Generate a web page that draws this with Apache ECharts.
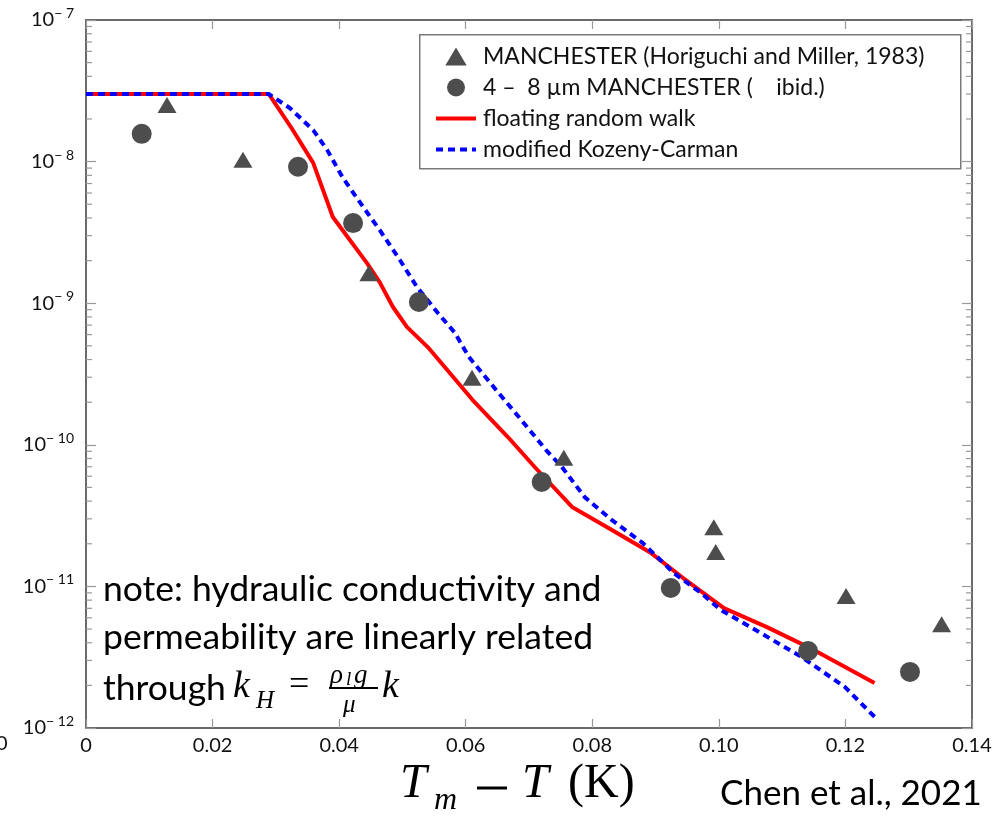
<!DOCTYPE html>
<html><head><meta charset="utf-8">
<script src="https://cdn.jsdelivr.net/npm/echarts@6/dist/echarts.min.js"></script>
<style>html,body{margin:0;padding:0;background:#fff;}#c{width:997px;height:817px;}</style>
</head><body><div id="c"></div>
<script>
// ---- data ----
var xTickLabels = ['0','0.02','0.04','0.06','0.08','0.10','0.12','0.14'];
var triX = [0.0128,0.0248,0.0447,0.0610,0.0755,0.0992,0.0995,0.1201,0.1352];
var triY = [2.51e-8,1.03e-8,1.63e-9,2.97e-10,8.1e-11,2.62e-11,1.75e-11,8.55e-12,5.4e-12];
var cirX = [0.0088,0.0335,0.0422,0.0526,0.0720,0.0924,0.1141,0.1302];
var cirY = [1.57e-8,9.2e-9,3.68e-9,1.02e-9,5.46e-11,9.75e-12,3.5e-12,2.49e-12];
var frwX = [0,0.0289,0.0325,0.0359,0.0390,0.0444,0.0464,0.0485,0.0507,0.0540,0.0611,0.0667,0.0709,0.0768,0.0831,0.0893,0.0942,0.1008,0.1076,0.1150,0.1246];
var frwY = [3.0e-8,3.0e-8,1.72e-8,9.8e-9,4.06e-9,1.92e-9,1.41e-9,9.4e-10,6.8e-10,4.9e-10,2.07e-10,1.13e-10,6.97e-11,3.64e-11,2.50e-11,1.72e-11,1.16e-11,7.03e-12,5.16e-12,3.56e-12,2.08e-12];
var kcX = [0,0.0289,0.0322,0.0359,0.0381,0.0406,0.0438,0.0464,0.0496,0.0523,0.0556,0.0583,0.0605,0.0648,0.0684,0.0727,0.0752,0.0788,0.0831,0.0880,0.0929,0.0972,0.1003,0.1058,0.1131,0.1199,0.1246];
var kcY = [3.0e-8,3.0e-8,2.39e-8,1.67e-8,1.21e-8,7.66e-9,4.78e-9,3.29e-9,2.02e-9,1.30e-9,8.53e-10,6.17e-10,4.17e-10,2.44e-10,1.57e-10,9.18e-11,6.97e-11,4.27e-11,2.94e-11,2.02e-11,1.24e-11,8.98e-12,6.81e-12,4.92e-12,3.17e-12,1.95e-12,1.20e-12];
var seriesNames = ['MANCHESTER (Horiguchi and Miller, 1983)','4 –  8 µm MANCHESTER (    ibid.)','floating random walk','modified Kozeny-Carman'];

function zip(a,b){return a.map(function(v,i){return [v,b[i]];});}
var minorVals = [];
for (var e=-12;e<-7;e++){ for (var m=2;m<=9;m++){ minorVals.push([0, m*Math.pow(10,e)]); } }

var chart = echarts.init(document.getElementById('c'));
var sans = 'Lato, "Open Sans", sans-serif';
var serif = '"Liberation Serif", "DejaVu Serif", serif';
var frameColor = '#3a3a3a';
var tickColor = '#999';
var markColor = '#4d4d4d';
var hidden = {color:'rgba(0,0,0,0)',borderWidth:0,opacity:0};

var option = {
  animation:false,
  backgroundColor:'#fff',
  grid:{left:86,right:25,top:20,bottom:89,containLabel:false},
  xAxis:[{
    type:'value',min:0,max:0.14,interval:0.02,position:'bottom',
    axisLine:{show:true,onZero:false,lineStyle:{color:frameColor,width:1.5}},
    axisTick:{show:true,inside:true,length:9,lineStyle:{color:tickColor,width:1.2}},
    axisLabel:{margin:8,fontSize:20,color:'#111',fontFamily:sans,
      formatter:function(v){var i=Math.round(v/0.02);return xTickLabels[i];}},
    splitLine:{show:false}
  },{
    type:'value',min:0,max:0.14,interval:0.02,position:'top',
    axisLine:{show:true,onZero:false,lineStyle:{color:frameColor,width:1.5}},
    axisTick:{show:true,inside:true,length:9,lineStyle:{color:tickColor,width:1.2}},
    axisLabel:{show:false},splitLine:{show:false}
  }],
  yAxis:[{
    type:'log',logBase:10,min:1e-12,max:1e-7,position:'left',
    axisLine:{show:true,onZero:false,lineStyle:{color:frameColor,width:1.5}},
    axisTick:{show:true,inside:true,length:10,lineStyle:{color:tickColor,width:1.2}},
    minorTick:{show:false},
    axisLabel:{margin:12,color:'#111',
      formatter:function(v){var e=Math.round(Math.log10(v));return '{b|10}{s|− '+(-e)+'}';},
      rich:{b:{fontSize:20,fontFamily:sans,color:'#111'},s:{fontSize:14,fontFamily:sans,color:'#111',padding:[0,0,13,0]}}},
    splitLine:{show:false}
  },{
    type:'log',logBase:10,min:1e-12,max:1e-7,position:'right',
    axisLine:{show:true,onZero:false,lineStyle:{color:frameColor,width:1.5}},
    axisTick:{show:true,inside:true,length:10,lineStyle:{color:tickColor,width:1.2}},
    axisLabel:{show:false},splitLine:{show:false}
  }],
  legend:{
    show:true,orient:'vertical',left:429,top:40,
    itemWidth:40,itemHeight:18,itemGap:8,symbolKeepAspect:true,
    textStyle:{fontSize:23,fontFamily:sans,color:'#111',lineHeight:22,padding:[0,0,0,2]},
    data:[
      {name:seriesNames[0],icon:'path://M0,16 L9.5,0 L19,16 Z'},
      {name:seriesNames[1],icon:'circle'},
      {name:seriesNames[2],itemStyle:hidden,lineStyle:{width:4,color:'#ff0000'}},
      {name:seriesNames[3],itemStyle:hidden,lineStyle:{width:4,color:'#0000ff',type:[7,5]}}
    ]
  },
  graphic:[
    {type:'rect',left:419,top:34,shape:{width:541,height:134},style:{fill:'#fff',stroke:'#7a7a7a',lineWidth:1.5},z:-1,silent:true},
    {type:'text',left:103,top:572,style:{text:'note: hydraulic conductivity and',fontSize:35.5,fontFamily:sans,fill:'#000'}},
    {type:'text',left:103,top:620,style:{text:'permeability are linearly related',fontSize:35.5,fontFamily:sans,fill:'#000'}},
    {type:'text',left:103,top:671,style:{text:'through',fontSize:35.5,fontFamily:sans,fill:'#000'}},
    {type:'text',left:233,top:668,style:{text:'k',fontSize:38,fontFamily:serif,fontStyle:'italic',fill:'#000'}},
    {type:'text',left:256,top:689,style:{text:'H',fontSize:25,fontFamily:serif,fontStyle:'italic',fill:'#000'}},
    {type:'text',left:289,top:668,style:{text:'=',fontSize:36,fontFamily:serif,fill:'#000'}},
    {type:'text',left:330,top:662,style:{text:'ρ',fontSize:27,fontFamily:serif,fontStyle:'italic',fill:'#000'}},
    {type:'text',left:346,top:670,style:{text:'l',fontSize:19,fontFamily:serif,fontStyle:'italic',fill:'#000'}},
    {type:'text',left:354,top:662,style:{text:'g',fontSize:27,fontFamily:serif,fontStyle:'italic',fill:'#000'}},
    {type:'line',shape:{x1:329,y1:688,x2:378,y2:688},style:{stroke:'#000',lineWidth:2}},
    {type:'text',left:343,top:693,style:{text:'μ',fontSize:25,fontFamily:serif,fontStyle:'italic',fill:'#000'}},
    {type:'text',left:382,top:668,style:{text:'k',fontSize:38,fontFamily:serif,fontStyle:'italic',fill:'#000'}},
    {type:'text',left:400,top:760,style:{text:'T',fontSize:48,fontFamily:serif,fontStyle:'italic',fill:'#000'}},
    {type:'text',left:434,top:785,style:{text:'m',fontSize:32,fontFamily:serif,fontStyle:'italic',fill:'#000'}},
    {type:'line',shape:{x1:477,y1:788,x2:507,y2:788},style:{stroke:'#000',lineWidth:3}},
    {type:'text',left:522,top:760,style:{text:'T',fontSize:48,fontFamily:serif,fontStyle:'italic',fill:'#000'}},
    {type:'text',left:568,top:760,style:{text:'(K)',fontSize:48,fontFamily:serif,fill:'#000'}},
    {type:'text',left:720,top:776,style:{text:'Chen et al., 2021',fontSize:35,fontFamily:sans,fill:'#000'}},
    {type:'text',left:-4,top:734,style:{text:'0',fontSize:20,fontFamily:sans,fill:'#111'}}
  ],
  series:[
    {name:seriesNames[0],type:'scatter',xAxisIndex:0,yAxisIndex:0,symbol:'triangle',symbolSize:[19,16],
     itemStyle:{color:markColor,opacity:1},data:zip(triX,triY),z:5},
    {name:seriesNames[1],type:'scatter',xAxisIndex:0,yAxisIndex:0,symbol:'circle',symbolSize:20,
     itemStyle:{color:markColor,opacity:1},data:zip(cirX,cirY),z:5},
    {name:seriesNames[2],type:'line',xAxisIndex:0,yAxisIndex:0,symbol:'none',
     lineStyle:{color:'#ff0000',width:4},itemStyle:{color:'#ff0000'},data:zip(frwX,frwY),z:3},
    {name:seriesNames[3],type:'line',xAxisIndex:0,yAxisIndex:0,symbol:'none',
     lineStyle:{color:'#0000ff',width:4,type:[7,5]},itemStyle:{color:'#0000ff'},data:zip(kcX,kcY),z:4},
    {type:'custom',xAxisIndex:0,yAxisIndex:0,data:minorVals,silent:true,clip:false,z:2,
     renderItem:function(params,api){
       var v=api.value(1);
       var p=api.coord([0,v]); var q=api.coord([0.14,v]);
       var st={stroke:tickColor,lineWidth:1.2};
       return {type:'group',children:[
         {type:'line',shape:{x1:p[0],y1:p[1],x2:p[0]+6,y2:p[1]},style:st},
         {type:'line',shape:{x1:q[0],y1:q[1],x2:q[0]-6,y2:q[1]},style:st}
       ]};
     }}
  ]
};
chart.setOption(option);
</script></body></html>
